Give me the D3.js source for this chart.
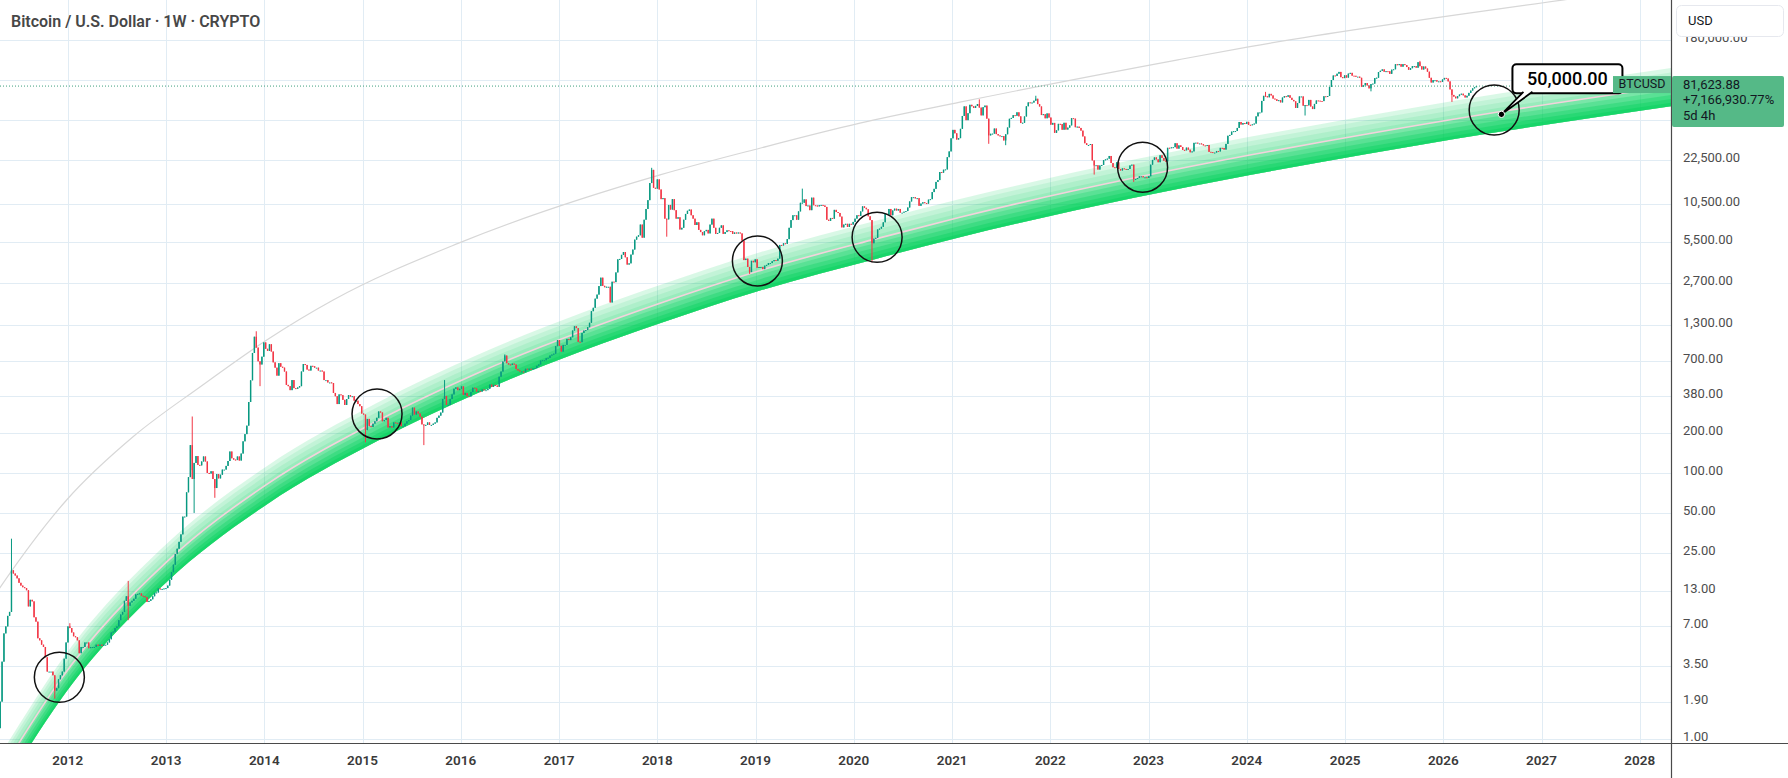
<!DOCTYPE html>
<html>
<head>
<meta charset="utf-8">
<script src="https://cdn.jsdelivr.net/npm/d3@7"></script>
<style>
  html, body { margin: 0; padding: 0; background: #fff; }
  svg { display: block; font-family: Roboto, "Noto Sans", sans-serif; }
</style>
</head>
<body>
<div id="chart"></div>
<script>
// weekly closes, one array per calendar year (weeks starting on Monday)
const firstWeek = "2011-04-25";
const firstOpen = 1.2;
const w2011 = [1.9, 3.8, 6.2, 7.0, 8.4, 9.0, 18.5, 17.5, 16.9, 16.1, 14.9, 14.2, 13.8, 13.6, 13.1, 9.9, 11.1, 10.8, 8.2, 7.6, 5.7, 5.5, 5.1, 4.9, 4.1, 3.2, 3.2, 3.2, 3.0, 2.3, 2.4, 2.8, 3.0, 3.2, 4.0, 5.3];
const w2012 = [7.0, 6.8, 6.3, 5.9, 5.8, 5.5, 4.4, 4.9, 4.9, 5.3, 5.3, 4.8, 4.9, 4.9, 4.9, 5.1, 5.0, 5.1, 5.0, 5.1, 5.1, 5.3, 5.6, 6.3, 6.4, 6.8, 7.0, 7.8, 8.6, 9.0, 10.9, 11.8, 10.0, 10.6, 10.9, 11.3, 12.2, 12.3, 12.4, 11.9, 11.8, 11.6, 10.7, 10.9, 11.2, 11.8, 12.5, 12.6, 13.5, 13.3, 13.4, 13.5, 13.6];
const w2013 = [14.2, 15.7, 17.9, 20.4, 24.6, 26.9, 30.3, 34.5, 46.9, 47.0, 71.5, 93, 162, 90, 119, 134, 115, 114, 122, 133, 122, 100, 99, 103, 90, 77, 98, 91, 97, 106, 106, 113, 123, 145, 129, 126, 125, 133, 124, 140, 173, 196, 227, 342, 498, 800, 1060, 878, 692, 655, 750, 960];
const w2014 = [860, 830, 930, 820, 680, 620, 540, 670, 630, 620, 580, 460, 450, 420, 500, 435, 430, 440, 450, 580, 660, 650, 600, 590, 640, 635, 620, 620, 590, 590, 580, 500, 500, 480, 480, 475, 400, 378, 330, 390, 385, 355, 325, 360, 385, 376, 378, 350, 350, 330, 318, 280];
const w2015 = [275, 210, 255, 225, 222, 235, 245, 260, 290, 285, 245, 250, 260, 220, 225, 220, 240, 238, 236, 240, 225, 225, 235, 245, 250, 270, 310, 275, 290, 280, 265, 232, 228, 230, 240, 230, 230, 235, 240, 260, 270, 285, 360, 380, 325, 325, 360, 390, 430, 440, 420, 430];
const w2016 = [448, 387, 400, 378, 376, 407, 438, 433, 410, 413, 410, 425, 420, 420, 430, 462, 445, 460, 455, 445, 530, 580, 690, 765, 670, 655, 650, 665, 655, 605, 590, 580, 580, 573, 608, 605, 608, 602, 611, 615, 640, 655, 700, 705, 705, 730, 735, 765, 778, 790, 900, 1000];
const w2017 = [905, 820, 920, 920, 1020, 1000, 1050, 1180, 1270, 1230, 970, 965, 1130, 1180, 1190, 1250, 1350, 1650, 1750, 2050, 2200, 2550, 2950, 2560, 2500, 2520, 2520, 1920, 2750, 2730, 3230, 4050, 4080, 4380, 4600, 4200, 3700, 3780, 4400, 4800, 5700, 6000, 6150, 7400, 5900, 8050, 9700, 11300, 15200, 19100, 14000, 13800];
const w2018 = [16200, 13600, 11500, 11700, 8200, 8100, 10400, 9600, 11500, 9500, 8200, 8400, 6800, 7000, 8050, 8900, 9400, 9600, 8700, 8200, 7350, 7700, 6750, 6500, 6150, 6600, 6750, 6350, 7400, 8200, 7000, 6300, 6400, 7000, 7300, 6300, 6500, 6700, 6620, 6600, 6300, 6450, 6350, 6450, 6350, 5600, 4000, 4100, 3550, 3250, 3950, 3850, 4050];
const w2019 = [3500, 3550, 3550, 3420, 3630, 3680, 3800, 3800, 3920, 4000, 3950, 4100, 5200, 5150, 5350, 5300, 5750, 7000, 8000, 8700, 8700, 8050, 9300, 10800, 10800, 11450, 10200, 10300, 9500, 11800, 10350, 10300, 10150, 10350, 10400, 10300, 10050, 8050, 7900, 8300, 8200, 9550, 9200, 9050, 8500, 7050, 7400, 7500, 7100, 7500, 7400, 7750];
const w2020 = [8200, 8700, 8600, 9300, 10150, 9900, 9650, 8550, 8000, 5350, 5800, 5880, 6800, 6900, 7120, 7700, 8900, 8750, 9700, 8700, 9450, 9750, 9450, 9700, 9100, 9100, 9250, 9350, 9950, 11050, 11900, 11900, 11650, 11700, 10250, 10650, 10900, 10750, 10650, 11400, 11500, 13000, 13750, 15500, 16000, 18400, 18200, 19150, 19250, 23800, 26300, 33000];
const w2021 = [38200, 36000, 32300, 33100, 38900, 48600, 57400, 45200, 51000, 59000, 57500, 55800, 57900, 59800, 56200, 49100, 56600, 58200, 46400, 34700, 35700, 35800, 39100, 35500, 34700, 34200, 34300, 31800, 35400, 39800, 46300, 47000, 49300, 48800, 51800, 48300, 43000, 43200, 48200, 57500, 61500, 60900, 61300, 63300, 65500, 59700, 57300, 49400, 50100, 46700, 50800, 47300];
const w2022 = [41800, 43100, 36300, 37900, 42400, 42200, 38300, 43200, 38400, 39700, 41300, 46800, 46400, 40000, 40400, 39500, 37700, 34100, 30300, 29400, 29400, 29900, 22500, 20600, 20700, 19200, 20600, 20800, 22600, 22900, 23200, 24300, 21500, 20000, 19800, 21800, 19400, 18900, 19600, 19400, 19200, 19400, 20600, 20900, 16300, 16300, 16600, 17100, 17100, 16800, 16800, 16600];
const w2023 = [17100, 20900, 22700, 23700, 22900, 21800, 24600, 23500, 22400, 22100, 28000, 27900, 28200, 28300, 30300, 27600, 29200, 28400, 27000, 26800, 28100, 27100, 25900, 26300, 30500, 30600, 30200, 30200, 29800, 29200, 29100, 29400, 26100, 26000, 25800, 25800, 26500, 26300, 27950, 27900, 27150, 29950, 34500, 35000, 37050, 37350, 37450, 39500, 43800, 41900, 43000, 42300];
const w2024 = [43900, 41700, 41600, 42000, 42600, 48300, 51600, 51700, 63100, 68900, 68400, 67200, 71300, 69400, 65700, 64900, 63100, 63900, 61500, 66900, 68500, 67800, 69600, 66600, 64200, 62700, 55900, 60800, 68200, 68200, 58100, 58700, 58400, 64200, 57300, 54800, 59900, 63600, 63300, 63000, 62900, 68400, 68000, 68700, 80400, 90600, 98000, 97300, 101100, 104300, 95200, 93700, 98300];
const w2025 = [94500, 101300, 102600, 97700, 97500, 96100, 96100, 94200, 80700, 82600, 86000, 82500, 78400, 84500, 85100, 93700, 94300, 104100, 106400, 109000, 104600, 105700, 105500, 100900, 108400, 109200, 119100, 117300, 119400, 114200, 119300, 117500, 113500, 108300, 111200, 115300, 115300, 112200, 123500, 115200, 108700, 114500, 110600, 104700, 94200, 86800, 90400, 90400, 88200, 88600, 87800, 91500];
const w2026 = [94000, 93000, 88500, 77000, 70000, 68000, 66000, 68500, 70500, 71500, 69500, 67000, 69000, 72500, 75500, 78500, 80000, 81623.88];

// notable wicks (week start, high, low)
const wickWeeks = ["2011-06-06", "2011-11-14", "2012-01-09", "2012-08-13", "2013-04-08", "2013-04-15", "2013-07-01", "2013-12-02", "2013-12-16", "2015-01-12", "2015-08-17", "2015-11-02", "2016-06-13", "2017-12-11", "2018-02-05", "2018-12-10", "2019-06-24", "2020-03-09", "2021-04-12", "2021-05-17", "2021-07-19", "2021-11-08", "2022-06-13", "2022-11-07", "2024-03-11", "2024-08-05", "2025-04-07", "2025-10-06", "2026-02-02"];
const wickHigh = [32, null, 7.4, 15.4, 266, null, null, 1165, null, null, null, 500, 780, 19800, null, null, 13800, null, 64800, null, null, 69000, null, null, 73800, null, null, 126200, null];
const wickLow = [null, 2.0, null, 7.8, 105, 50, 65, null, 450, 170, 162, null, null, null, 6000, 3150, null, 3850, null, 30000, 29300, null, 17600, 15500, null, 49000, 74500, null, 62000];

// regression band centre
const bandDates = ["2011-03-15", "2011-07-07", "2011-12-01", "2013-01-04", "2014-01-10", "2015-02-23", "2016-03-13", "2018-01-11", "2019-01-09", "2020-03-27", "2021-01-30", "2024-01-13", "2024-09-30", "2026-08-04", "2028-05-26"];
const bandCenter = [0.4, 0.95, 2.7, 21.5, 82, 245, 575, 1895, 3300, 5800, 8400, 24700, 30800, 52500, 83000];

// upper grey curve
const arcDates = ["2011-02-06", "2011-04-23", "2011-12-28", "2012-09-01", "2013-05-08", "2014-01-10", "2014-09-14", "2015-12-29", "2018-01-11", "2019-01-17", "2020-01-24", "2021-01-30", "2023-04-20", "2024-01-13", "2027-03-18", "2028-05-26"];
const arcPrice = [8.0, 13.6, 62.6, 188, 446, 1002, 2004, 5411, 17500, 27800, 42900, 61700, 128600, 161600, 362000, 480000];

// circled touches
const circleDates = ["2011-12-01", "2015-02-24", "2019-01-08", "2020-03-28", "2022-12-10", "2026-07-09"];
const circlePrice = [2.9, 278, 3940, 5940, 20000, 53900];

const targetDate = "2026-08-05";
const targetPrice = 50000;
const lastPrice = 81623.88;
const lastChange = "+7,166,930.77%";
const lastCountdown = "5d 4h";

const priceTicks = [1, 1.9, 3.5, 7, 13, 25, 50, 100, 200, 380, 700, 1300, 2700, 5500, 10500, 22500, 45000, 90000, 180000];
const yearTicks = [2012, 2013, 2014, 2015, 2016, 2017, 2018, 2019, 2020, 2021, 2022, 2023, 2024, 2025, 2026, 2027, 2028];

// ---------------------------------------------------------------
const W = 1788, H = 778;
const plotRight = 1671, plotBottom = 743;
const parse = d3.utcParse("%Y-%m-%d");

const x = d3.scaleUtc()
  .domain([parse("2012-01-01"), parse("2028-01-01")])
  .range([67.7, 1639.7]);
const y = d3.scaleLog()
  .domain([0.928, 362700])
  .range([plotBottom, 0]);

const svg = d3.select("#chart").append("svg")
  .attr("width", W)
  .attr("height", H);

svg.append("rect").attr("width", W).attr("height", H).attr("fill", "#fff");

const defs = svg.append("defs");
defs.append("clipPath").attr("id", "plotClip")
  .append("rect").attr("x", 0).attr("y", 0).attr("width", plotRight).attr("height", plotBottom);
defs.append("clipPath").attr("id", "axisClip")
  .append("rect").attr("x", plotRight).attr("y", 0).attr("width", W - plotRight).attr("height", plotBottom);

// grid
const grid = svg.append("g");
grid.selectAll("line.h").data(priceTicks).join("line")
  .attr("x1", 0).attr("x2", plotRight)
  .attr("y1", d => Math.round(y(d)) + 0.5).attr("y2", d => Math.round(y(d)) + 0.5)
  .attr("stroke", "#e1ecf4");
grid.selectAll("line.v").data(yearTicks).join("line")
  .attr("x1", d => Math.round(x(parse(d + "-01-01"))) + 0.5)
  .attr("x2", d => Math.round(x(parse(d + "-01-01"))) + 0.5)
  .attr("y1", 0).attr("y2", plotBottom)
  .attr("stroke", "#e1ecf4");

const plot = svg.append("g").attr("clip-path", "url(#plotClip)");

// grey curve
const arcPts = arcDates.map((d, i) => [x(parse(d)), y(arcPrice[i])]);
plot.append("path")
  .attr("d", d3.line().curve(d3.curveMonotoneX)(arcPts))
  .attr("fill", "none")
  .attr("stroke", "#d7d7d7")
  .attr("stroke-width", 1.2);

// band layers
const bandPts = bandDates.map((d, i) => ({ x: x(parse(d)), p: bandCenter[i] }));
const bandLow = 0.707;
const bandTops = [1.37, 1.27, 1.17, 1.07, 1.0, 0.93, 0.86, 0.80, 0.75];
const bandAlpha = [0.15, 0.1, 0.1, 0.12, 0.2, 0.25, 0.3, 0.35, 0.4];
bandTops.forEach((f, i) => {
  const area = d3.area()
    .x(d => d.x)
    .y0(d => y(d.p * bandLow))
    .y1(d => y(d.p * f))
    .curve(d3.curveMonotoneX);
  plot.append("path")
    .attr("d", area(bandPts))
    .attr("fill", "#00d25a")
    .attr("fill-opacity", bandAlpha[i]);
});
plot.append("path")
  .attr("d", d3.line().x(d => d.x).y(d => y(d.p)).curve(d3.curveMonotoneX)(bandPts))
  .attr("fill", "none")
  .attr("stroke", "#f3d3dc")
  .attr("stroke-width", 1.6);

// candles
const closes = [].concat(w2011, w2012, w2013, w2014, w2015, w2016, w2017, w2018, w2019, w2020, w2021, w2022, w2023, w2024, w2025, w2026);
const t0 = parse(firstWeek);
const candles = closes.map((c, i) => ({
  date: d3.utcDay.offset(t0, 7 * i),
  open: i ? closes[i - 1] : firstOpen,
  close: c,
  high: null,
  low: null
}));
wickWeeks.forEach((d, i) => {
  const k = Math.round((parse(d) - t0) / (7 * 864e5));
  if (candles[k]) {
    candles[k].high = wickHigh[i];
    candles[k].low = wickLow[i];
  }
});
const up = "#089981", down = "#f23645";
const cg = plot.append("g");
cg.selectAll("line").data(candles).join("line")
  .attr("x1", d => x(d.date)).attr("x2", d => x(d.date))
  .attr("y1", d => y(d.high || Math.max(d.open, d.close)))
  .attr("y2", d => y(d.low || Math.min(d.open, d.close)))
  .attr("stroke", d => d.close >= d.open ? up : down)
  .attr("stroke-width", 1);
cg.selectAll("rect").data(candles).join("rect")
  .attr("x", d => x(d.date) - 0.7)
  .attr("width", 1.4)
  .attr("y", d => y(Math.max(d.open, d.close)))
  .attr("height", d => Math.max(1, Math.abs(y(d.open) - y(d.close))))
  .attr("fill", d => d.close >= d.open ? up : down);

// last price line
const py = y(lastPrice);
plot.append("line")
  .attr("x1", 0).attr("x2", plotRight)
  .attr("y1", py).attr("y2", py)
  .attr("stroke", "#3f9f7c")
  .attr("stroke-width", 1)
  .attr("stroke-dasharray", "1,2");

// circles
plot.selectAll("circle.touch").data(circleDates).join("circle")
  .attr("class", "touch")
  .attr("cx", d => x(parse(d)))
  .attr("cy", (d, i) => y(circlePrice[i]))
  .attr("r", 25)
  .attr("fill", "none")
  .attr("stroke", "#111")
  .attr("stroke-width", 1.5);

// callout
const tx = x(parse(targetDate)), ty = y(targetPrice);
const bx = tx + 11, by = ty - 50, bw = 110, bh = 29;
const callout = svg.append("g");
callout.append("rect")
  .attr("x", bx).attr("y", by).attr("width", bw).attr("height", bh)
  .attr("rx", 4)
  .attr("fill", "#fff").attr("stroke", "#000").attr("stroke-width", 2);
callout.append("path")
  .attr("d", `M${bx + 11},${by + bh - 1.5} L${tx},${ty} L${bx + 20},${by + bh - 1.5}`)
  .attr("fill", "#fff").attr("stroke", "#000").attr("stroke-width", 1.8)
  .attr("stroke-linejoin", "round");
callout.append("text")
  .attr("x", bx + bw / 2).attr("y", by + bh / 2 + 1)
  .attr("text-anchor", "middle").attr("dominant-baseline", "middle")
  .attr("font-size", 18).attr("font-weight", 500).attr("fill", "#000")
  .text(d3.format(",.2f")(targetPrice));
callout.append("circle")
  .attr("cx", tx).attr("cy", ty).attr("r", 3.2)
  .attr("fill", "#000").attr("stroke", "#fff").attr("stroke-width", 1);

// axis lines
svg.append("line")
  .attr("x1", 0).attr("x2", W).attr("y1", plotBottom + 0.5).attr("y2", plotBottom + 0.5)
  .attr("stroke", "#4a4a4a").attr("stroke-width", 1.2);
svg.append("line")
  .attr("x1", plotRight + 0.5).attr("x2", plotRight + 0.5).attr("y1", 0).attr("y2", H)
  .attr("stroke", "#4a4a4a").attr("stroke-width", 1.2);

// price labels (those under the last-price tag are hidden, as on the chart)
const tagTop = py - 10, tagBottom = py + 41;
svg.append("g").attr("clip-path", "url(#axisClip)")
  .selectAll("text").data(priceTicks.filter(d => y(d) < tagTop - 3 || y(d) > tagBottom + 3)).join("text")
  .attr("x", 1683)
  .attr("y", d => y(d) - 1.5)
  .attr("dominant-baseline", "middle")
  .attr("font-size", 13)
  .attr("fill", "#4d4d4d")
  .text(d => d3.format(",.2f")(d));

// year labels
svg.append("g").selectAll("text").data(yearTicks).join("text")
  .attr("x", d => x(parse(d + "-01-01")))
  .attr("y", 761)
  .attr("text-anchor", "middle")
  .attr("dominant-baseline", "middle")
  .attr("font-size", 13.5)
  .attr("font-weight", 600)
  .attr("fill", "#3a3a3a")
  .text(d => d);

// title
svg.append("text")
  .attr("x", 11).attr("y", 26.5)
  .attr("font-size", 16).attr("font-weight", 600)
  .attr("fill", "#474747")
  .text("Bitcoin / U.S. Dollar \u00b7 1W \u00b7 CRYPTO");

// currency box
svg.append("rect")
  .attr("x", 1676.5).attr("y", 5.5).attr("width", 107).attr("height", 31)
  .attr("rx", 5).attr("fill", "#fff").attr("stroke", "#e6e8ee");
svg.append("text")
  .attr("x", 1688).attr("y", 21.5)
  .attr("dominant-baseline", "middle")
  .attr("font-size", 13).attr("fill", "#131722")
  .text("USD");

// last price labels
const green = "#55b987";
svg.append("rect")
  .attr("x", plotRight + 1).attr("y", tagTop).attr("width", 112).attr("height", tagBottom - tagTop)
  .attr("rx", 2).attr("fill", green);
svg.append("g").selectAll("text")
  .data([d3.format(",.2f")(lastPrice), lastChange, lastCountdown]).join("text")
  .attr("x", 1683)
  .attr("y", (d, i) => py - 1 + i * 15.6)
  .attr("dominant-baseline", "middle")
  .attr("font-size", 13)
  .attr("fill", "#131722")
  .text(d => d);
svg.append("rect")
  .attr("x", plotRight - 58).attr("y", py - 10).attr("width", 58).attr("height", 17)
  .attr("fill", green);
svg.append("text")
  .attr("x", plotRight - 29).attr("y", py - 1)
  .attr("text-anchor", "middle")
  .attr("dominant-baseline", "middle")
  .attr("font-size", 12.5)
  .attr("fill", "#131722")
  .text("BTCUSD");
</script>
</body>
</html>
